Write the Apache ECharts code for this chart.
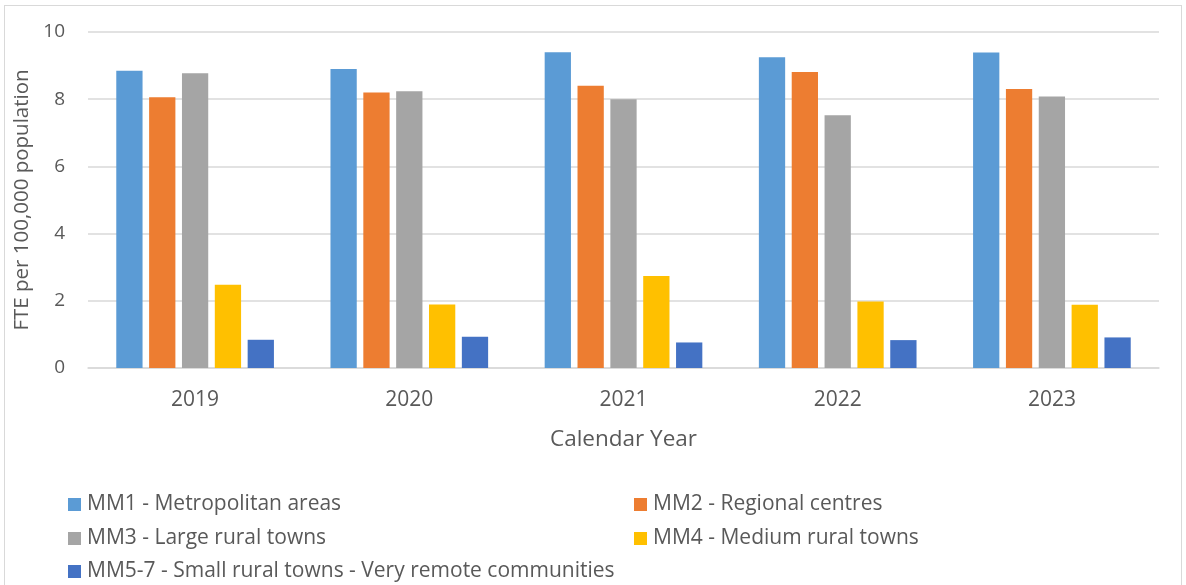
<!DOCTYPE html>
<html>
<head>
<meta charset="utf-8">
<script src="https://cdn.jsdelivr.net/npm/echarts@6/dist/echarts.min.js"></script>
<style>
  html, body { margin: 0; padding: 0; background: #ffffff; }
  #frame { position: absolute; left: 4px; top: 5px; width: 1178px; height: 600px; border: 1px solid #d9d9d9; box-sizing: border-box; }
  #chart { position: absolute; left: 0; top: 0; width: 1186px; height: 585px; }
</style>
</head>
<body>
<div id="frame"></div>
<div id="chart"></div>
<script>
// Calendar years on the category axis
const years = ['2019', '2020', '2021', '2022', '2023'];

// FTE per 100,000 population, by Modified Monash (MM) category
const mm1 = [8.85, 8.90, 9.40, 9.25, 9.39];
const mm2 = [8.06, 8.20, 8.40, 8.81, 8.30];
const mm3 = [8.77, 8.24, 8.00, 7.52, 8.08];
const mm4 = [2.48, 1.89, 2.74, 1.98, 1.88];
const mm57 = [0.84, 0.93, 0.76, 0.83, 0.91];

const seriesNames = [
  'MM1 - Metropolitan areas',
  'MM2 - Regional centres',
  'MM3 - Large rural towns',
  'MM4 - Medium rural towns',
  'MM5-7 - Small rural towns - Very remote communities'
];
const seriesData = [mm1, mm2, mm3, mm4, mm57];
const colors = ['#5b9bd5', '#ed7d31', '#a5a5a5', '#ffc000', '#4472c4'];

const fontFamily = '"Open Sans", "Noto Sans", sans-serif';
const textColor = '#595959';

const chart = echarts.init(document.getElementById('chart'), null, { renderer: 'canvas' });

// Legend laid out in two columns: one legend component per entry
const legendCols = [68, 634];
const legendRows = [494, 528, 561];
const legends = seriesNames.map((name, i) => ({
  left: legendCols[i % 2],
  top: legendRows[Math.floor(i / 2)],
  padding: 0,
  itemWidth: 13, itemHeight: 13, icon: 'rect',
  textStyle: { fontFamily, fontSize: 21, color: textColor, padding: [0, 0, 0, 1] },
  data: [name]
}));

chart.setOption({
  animation: false,
  color: colors,
  grid: { left: 88, right: 27, top: 32, bottom: 217, containLabel: false },
  legend: legends,
  xAxis: {
    type: 'category',
    data: years,
    name: 'Calendar Year',
    nameLocation: 'middle',
    nameGap: 60,
    nameTextStyle: { fontFamily, fontSize: 22.5, color: textColor },
    axisLine: { lineStyle: { color: '#d9d9d9', width: 1.5 } },
    axisTick: { show: false },
    axisLabel: { fontFamily, fontSize: 21, color: textColor, margin: 22 }
  },
  yAxis: {
    type: 'value',
    min: 0, max: 10, interval: 2,
    name: 'FTE per 100,000 population',
    nameLocation: 'middle',
    nameGap: 51,
    nameTextStyle: { fontFamily, fontSize: 20.5, color: textColor },
    axisLine: { show: false },
    axisTick: { show: false },
    axisLabel: { fontFamily, fontSize: 19, color: textColor, margin: 23 },
    splitLine: { lineStyle: { color: '#d9d9d9', width: 1.5 } }
  },
  series: seriesNames.map((name, i) => ({
    name,
    type: 'bar',
    data: seriesData[i],
    barGap: '25%',
    barCategoryGap: '26.4%'
  }))
});
</script>
</body>
</html>
